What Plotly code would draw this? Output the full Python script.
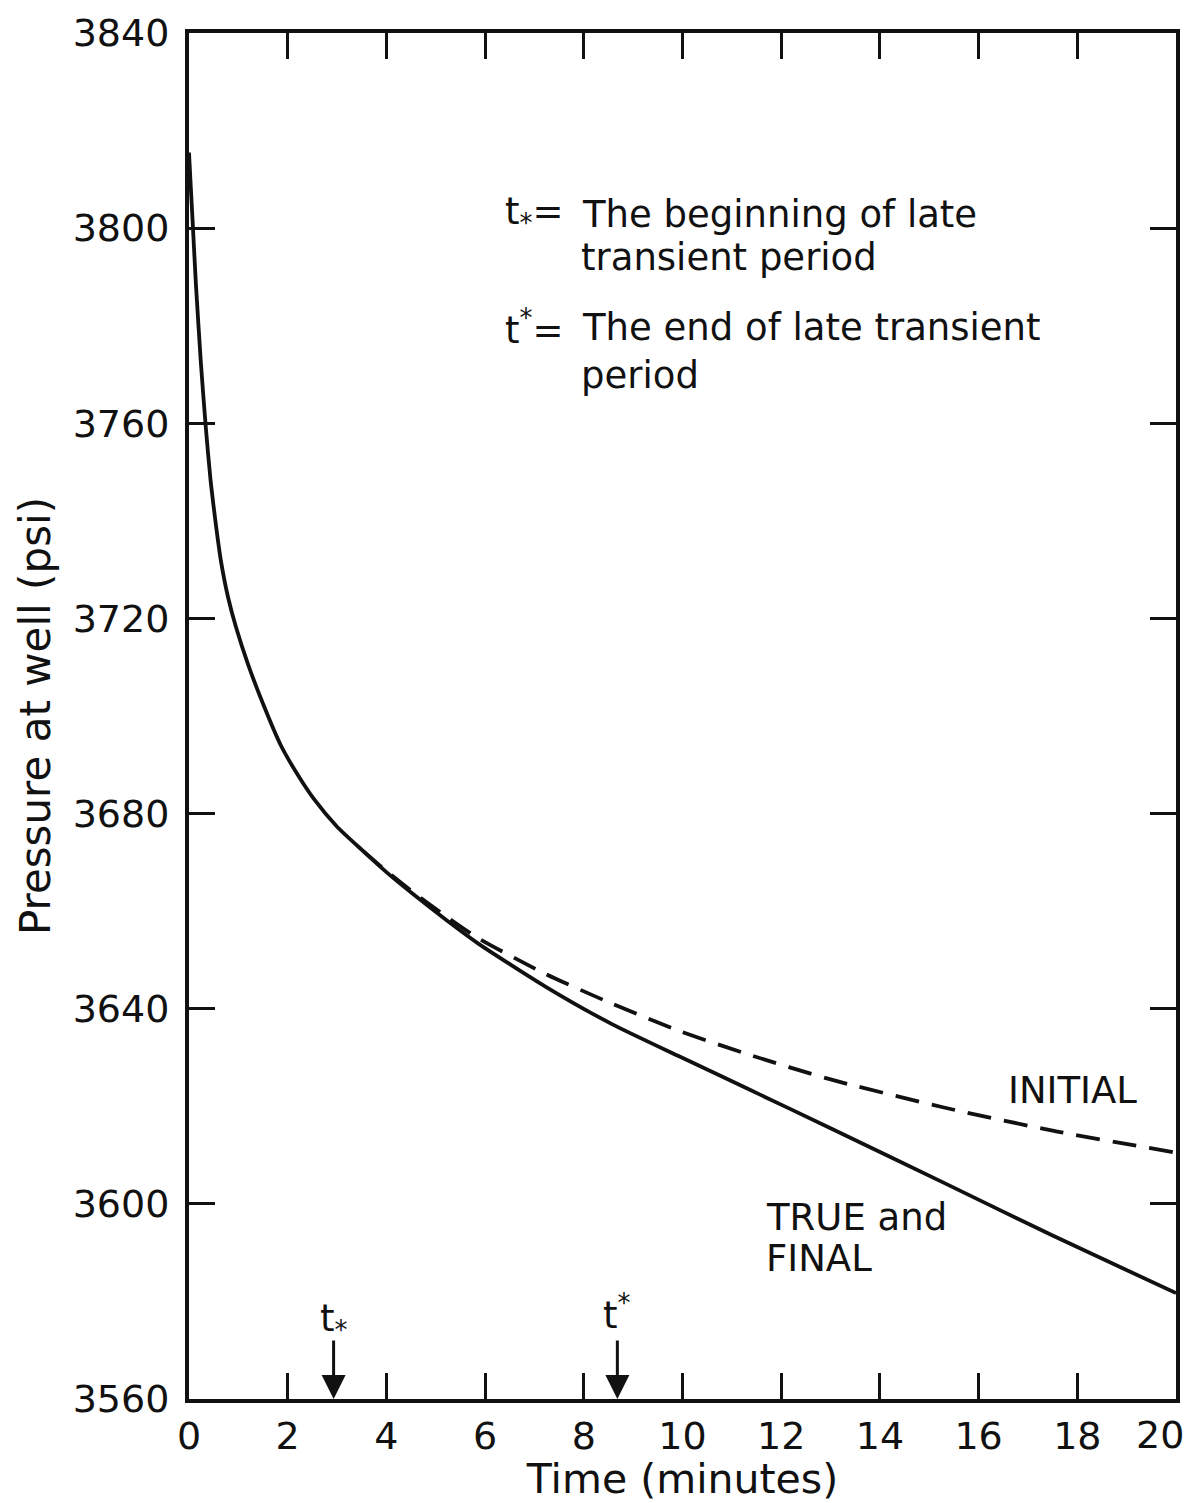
import plotly.graph_objects as go

# Wellbore pressure drawdown: true/final model versus initial estimate
time_true = [0, 0.04, 0.08, 0.14, 0.24, 0.34, 0.44, 0.55, 0.65, 0.79, 0.95, 1.2, 1.5,
             1.86, 2.2, 2.53, 3.0, 3.53, 4.0, 4.54, 5.2, 5.87, 7.23, 8.58, 9.92,
             11.28, 13.0, 15.32, 17.5, 20]
pressure_true = [3815.5, 3807.7, 3800.1, 3788.5, 3772.5, 3759.2, 3748.0, 3738.8,
                 3731.6, 3724.4, 3718.3, 3710.5, 3702.5, 3694.0, 3688.0, 3683.0,
                 3677.3, 3672.3, 3668.0, 3663.5, 3658.3, 3653.3, 3644.5, 3636.8,
                 3630.3, 3623.8, 3615.5, 3604.2, 3593.5, 3581.7]

time_initial = [3.53, 4.0, 4.54, 5.2, 5.87, 7.23, 8.58, 9.92, 11.28, 13.0, 15.32,
                17.5, 20]
pressure_initial = [3672.3, 3668.2, 3663.9, 3659, 3654.4, 3647.1, 3641, 3635.5,
                    3630.8, 3625.5, 3619.7, 3615, 3610.5]

# Start and end of the late transient period (minutes)
t_begin = 2.93
t_end = 8.68

x_ticks = [0, 2, 4, 6, 8, 10, 12, 14, 16, 18, 20]
y_ticks = [3560, 3600, 3640, 3680, 3720, 3760, 3800, 3840]

FONT = "DejaVu Sans"
INK = "#111111"

fig = go.Figure()

fig.add_trace(go.Scatter(
    x=time_initial, y=pressure_initial, mode="lines",
    line=dict(color=INK, width=3.8, dash="24px,13px", shape="spline", smoothing=0.6),
    showlegend=False, hoverinfo="skip",
))
fig.add_trace(go.Scatter(
    x=time_true, y=pressure_true, mode="lines",
    line=dict(color=INK, width=3.8, shape="spline", smoothing=0.6),
    showlegend=False, hoverinfo="skip",
))

annotations = []

def note(x, y, text, size=37, xanchor="left", yanchor="middle", xshift=0):
    annotations.append(dict(
        x=x, y=y, xref="x", yref="y", text=text, showarrow=False,
        xanchor=xanchor, yanchor=yanchor, xshift=xshift,
        font=dict(family=FONT, size=size, color=INK),
    ))

# Definitions block
note(6.36, 3802.8, "t<sub>*</sub>=")
note(7.92, 3802.8, "The beginning of late")
note(7.9, 3794.0, "transient period")
note(6.36, 3779.7, "t<sup>*</sup>=")
note(7.92, 3779.7, "The end of late transient")
note(7.9, 3769.8, "period")

# Curve labels
note(16.55, 3623.2, "INITIAL", size=37)
note(11.66, 3597.2, "TRUE and", size=37)
note(11.66, 3588.8, "FINAL", size=37)

# Period markers along the time axis
for t_mark, label, y_lab in [(t_begin, "t<sub>*</sub>", 3576.0),
                             (t_end, "t<sup>*</sup>", 3577.8)]:
    annotations.append(dict(
        x=t_mark, y=3560, xref="x", yref="y", ax=0, ay=-60,
        axref="pixel", ayref="pixel", text="", showarrow=True,
        arrowhead=2, arrowsize=1.6, arrowwidth=3, arrowcolor=INK, standoff=0,
    ))
    note(t_mark, y_lab, label, size=37, xanchor="center")

# Label for the last time tick, kept inside the page edge
annotations.append(dict(
    x=20, y=0, xref="x", yref="paper", text=str(x_ticks[-1]), showarrow=False,
    xanchor="right", yanchor="top", xshift=10, yshift=-12,
    font=dict(family=FONT, size=38, color=INK),
))

fig.update_layout(
    width=1191, height=1503,
    margin=dict(l=189, r=11, t=30, b=104),
    paper_bgcolor="white", plot_bgcolor="white",
    font=dict(family=FONT, color=INK),
    annotations=annotations,
    showlegend=False,
)

fig.update_xaxes(
    range=[0, 20], tickvals=x_ticks,
    ticktext=[str(v) for v in x_ticks[:-1]] + [""],
    ticks="inside", ticklen=26, tickwidth=3, tickcolor=INK,
    showline=True, linewidth=4, linecolor=INK, mirror="ticks",
    showgrid=False, zeroline=False,
    tickfont=dict(family=FONT, size=38, color=INK),
    title=dict(text="Time (minutes)", font=dict(family=FONT, size=41, color=INK),
               standoff=6),
)
fig.update_yaxes(
    range=[3560, 3840], tickvals=y_ticks, ticktext=[str(v) for v in y_ticks],
    ticks="inside", ticklen=26, tickwidth=3, tickcolor=INK,
    showline=True, linewidth=4, linecolor=INK, mirror="ticks",
    showgrid=False, zeroline=False, ticklabelstandoff=8,
    tickfont=dict(family=FONT, size=38, color=INK),
    title=dict(text="Pressure at well (psi)", font=dict(family=FONT, size=42, color=INK),
               standoff=10),
)

fig.write_html("out.html")
